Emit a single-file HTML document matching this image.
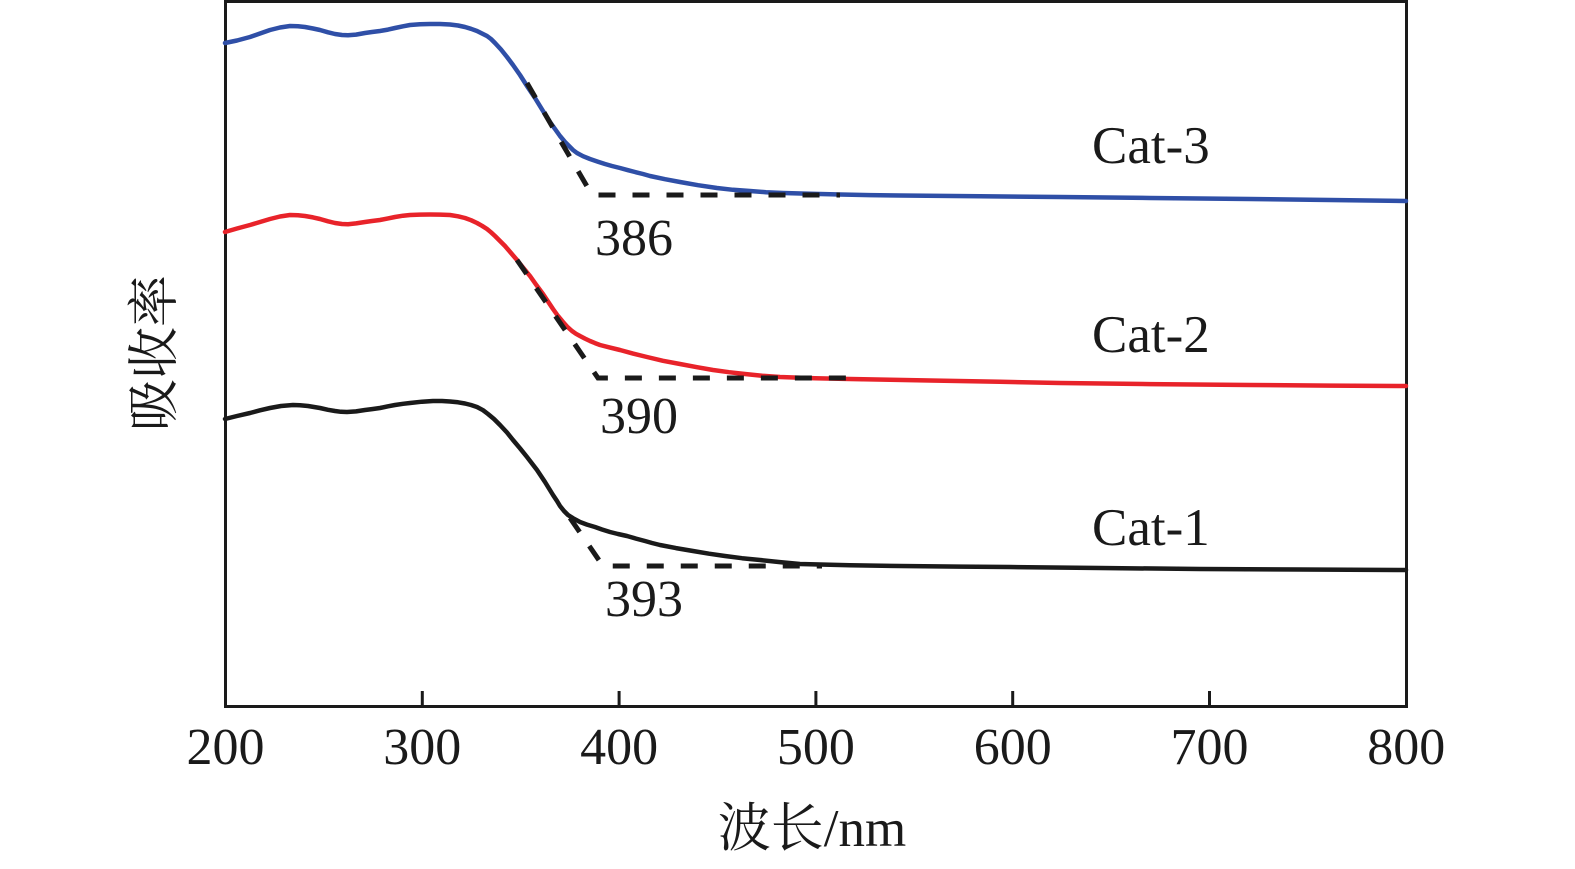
<!DOCTYPE html>
<html>
<head>
<meta charset="utf-8">
<style>
html,body{margin:0;padding:0;background:#fff;}
svg{display:block;}
text{font-family:"Liberation Serif","Noto Serif CJK SC",serif;fill:#1a1a1a;}
</style>
</head>
<body>
<svg width="1575" height="869" viewBox="0 0 1575 869" xmlns="http://www.w3.org/2000/svg">
<rect width="1575" height="869" fill="#fff"/>

<!-- axes frame -->
<g stroke="#1a1a1a" stroke-width="3" fill="none">
  <line x1="225.5" y1="1.5" x2="1406.5" y2="1.5"/>
  <line x1="225.5" y1="0" x2="225.5" y2="708"/>
  <line x1="1406.5" y1="0" x2="1406.5" y2="708"/>
  <line x1="224" y1="706.5" x2="1408" y2="706.5"/>
  <!-- ticks -->
  <line x1="422.3" y1="706" x2="422.3" y2="691"/>
  <line x1="619.1" y1="706" x2="619.1" y2="691"/>
  <line x1="815.9" y1="706" x2="815.9" y2="691"/>
  <line x1="1012.7" y1="706" x2="1012.7" y2="691"/>
  <line x1="1209.5" y1="706" x2="1209.5" y2="691"/>
</g>

<!-- series -->
<g fill="none" stroke-width="4.5" stroke-linejoin="round" stroke-linecap="round">
  <polyline stroke="#2f4fa7" points="225,43 237,40.5 250,37 260,33.5 270,30 280,27.5 290,26 298,26.3 305,27 313,28.5 320,30 328,32.3 335,34 342,35 348,35.2 356,34.6 365,33 372,32 380,31 388,29.6 395,28 403,26.3 410,25 420,24.3 430,24 440,24 450,24.5 458,25.5 465,27 471,28.8 477,31 482,33.5 487,36 491,39 495,43 501,49.5 507,57 513,65 520,75 527,86 535,98 543,111 550,122 555,129 560,136 565,142 569,146 573,150 577,153 583,156.2 590,159 598,161.7 605,164 612,166 620,168 628,170.2 635,172 643,174 650,176 665,179.2 680,182 698,185.2 717,188 733,189.8 750,191 766,192.2 783,193 810,193.8 840,194.5 870,195.1 900,195.5 980,196.3 1060,197 1150,198 1250,199 1330,200 1406,201"/>
  <polyline stroke="#e8232a" points="225,232 237,228.5 250,225 260,222 270,219 280,216.5 290,215 298,215.3 305,216 313,217.4 320,219 328,221.3 335,223 342,224 348,224.2 356,223.4 365,222 372,221 380,220 388,218.4 395,217 403,215.7 410,215 420,214.6 430,214.5 440,214.6 450,215 458,216.3 465,218 471,220.2 477,223 482,225.8 487,229 491,232.3 495,236 500,241 505,246 511,253 517,260 523,267.5 530,276 536,284.5 543,294 548,301.5 553,309 558,316 563,322 567,326.5 572,331 576,333.8 580,336 585,338.6 590,341 595,343.1 600,345 610,347.6 620,350 633,353.6 647,357 663,360.8 680,364 697,367.2 713,370 729,372.2 745,374 762,375.7 780,377 815,378.2 850,379 890,379.8 930,380.5 1000,381.8 1060,383 1150,384.1 1250,385 1330,385.6 1406,386"/>
  <polyline stroke="#1a1a1a" points="225,419 237,416 250,413 260,410.3 270,408 281,406 293,405 300,405.2 308,406 314,407 320,408 328,409.8 335,411 341,411.8 347,412 356,411.4 365,410 372,409.1 380,408 388,406.3 395,405 403,403.8 410,403 422,401.7 433,401 442,401 450,401.5 458,402.3 465,403.5 471,405 477,407 483,410.2 488,414 494,419 500,425 507,432.5 513,440 520,448.3 527,457 532,463.5 537,470 541,476 545,482 549,488.5 553,495 557,501 560,506 564,511 568,515 573,518.2 580,522 587,524.6 595,527 602,529.5 610,532 618,534 627,536 636,538.6 645,541 652,543 660,545 676,548.1 693,551 709,553.7 725,556 742,558.2 760,560 780,562.1 800,564 850,565.2 900,566 960,566.6 1010,567 1100,568 1200,569 1300,569.5 1406,570"/>
</g>

<!-- dashed tangent lines -->
<g fill="none" stroke="#1a1a1a" stroke-width="5" stroke-dasharray="17 17">
  <polyline points="527,83 592,195 840,195"/>
  <polyline points="517,260 598,378 858,378"/>
  <polyline points="570,518 603,566 822,566"/>
</g>

<!-- annotations -->
<g font-size="52">
  <text x="595" y="255">386</text>
  <text x="600" y="433">390</text>
  <text x="605" y="616">393</text>
  <text x="1092" y="163" font-size="53">Cat-3</text>
  <text x="1092" y="352" font-size="53">Cat-2</text>
  <text x="1092" y="545" font-size="53">Cat-1</text>
</g>

<!-- tick labels -->
<g font-size="52" text-anchor="middle">
  <text x="225.5" y="764">200</text>
  <text x="422.3" y="764">300</text>
  <text x="619.1" y="764">400</text>
  <text x="815.9" y="764">500</text>
  <text x="1012.7" y="764">600</text>
  <text x="1209.5" y="764">700</text>
  <text x="1406.3" y="764">800</text>
</g>

<!-- axis titles -->
<text x="812" y="846" font-size="53" text-anchor="middle">波长/nm</text>
<text transform="translate(172,353) rotate(-90)" font-size="52" text-anchor="middle">吸收率</text>
</svg>
</body>
</html>
